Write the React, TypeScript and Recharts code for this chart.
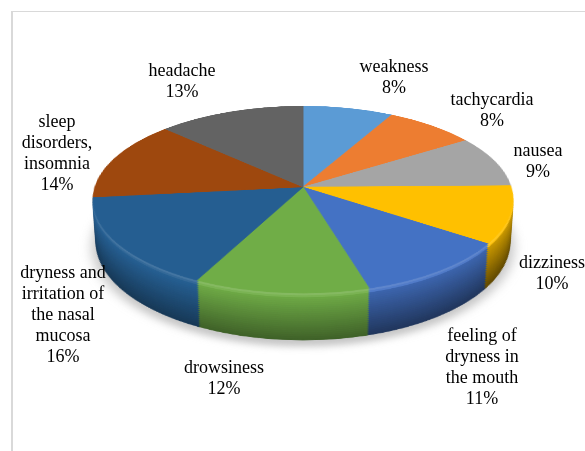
import { PieChart, Pie, Cell } from "recharts";

const CATEGORIES = [
  "weakness",
  "tachycardia",
  "nausea",
  "dizziness",
  "feeling of dryness in the mouth",
  "drowsiness",
  "dryness and irritation of the nasal mucosa",
  "sleep disorders, insomnia",
  "headache",
];
const VALUES = [8, 8, 9, 10, 11, 12, 16, 14, 13];
const COLORS = [
  "#5B9BD5",
  "#ED7D31",
  "#A5A5A5",
  "#FFC000",
  "#4472C4",
  "#70AD47",
  "#255E91",
  "#9E480E",
  "#636363",
];

// label placement: [centre x, top y, wrap width]
const LABEL_POS: [number, number, number][] = [
  [394, 56, 120],
  [492, 89, 120],
  [538, 140, 120],
  [552, 252, 120],
  [482, 325, 92],
  [224, 357, 120],
  [63, 262, 100],
  [57, 111, 100],
  [182, 60, 120],
];

// 3D tilt, done with css perspective
const CX = 303;
const CY = 187;
const R = 208;
const TILT = 63.8;
const PERSP = 1394;
const DEPTH = 48;
const LAYERS = 24;
const BOX = 2 * R + 40;
const LIGHT_DIR = 225; // degrees clockwise from 12 o'clock

function mix(hex: string, to: number, amt: number) {
  const n = parseInt(hex.slice(1), 16);
  const ch = [(n >> 16) & 255, (n >> 8) & 255, n & 255].map((c) =>
    Math.round(c + (to - c) * amt)
  );
  return `rgb(${ch[0]},${ch[1]},${ch[2]})`;
}

const total = VALUES.reduce((a, b) => a + b, 0);
const midAngles = VALUES.map((v, i) => {
  const before = VALUES.slice(0, i).reduce((a, b) => a + b, 0);
  return ((before + v / 2) / total) * 360;
});

function sideColor(i: number, t: number) {
  const hex = COLORS[i];
  const shade = (0.3 * (1 - Math.cos(((midAngles[i] - LIGHT_DIR) * Math.PI) / 180))) / 2;
  if (t < 0.12) return mix(hex, 255, 0.22 * (1 - t / 0.12));
  return mix(hex, 0, shade + 0.4 * ((t - 0.12) / 0.88));
}

const data = CATEGORIES.map((name, i) => ({ name, value: VALUES[i] }));

function Disc({
  z,
  colors,
  radius = R,
  style,
}: {
  z: number;
  colors: string[];
  radius?: number;
  style?: React.CSSProperties;
}) {
  return (
    <div
      style={{
        position: "absolute",
        left: CX - BOX / 2,
        top: CY - BOX / 2,
        width: BOX,
        height: BOX,
        transformOrigin: "50% 50%",
        transform: `rotateX(${TILT}deg) translateZ(${-z}px)`,
        ...style,
      }}
    >
      <PieChart width={BOX} height={BOX} margin={{ top: 0, right: 0, bottom: 0, left: 0 }}>
        <Pie
          data={data}
          dataKey="value"
          cx={BOX / 2}
          cy={BOX / 2}
          outerRadius={radius}
          startAngle={90}
          endAngle={-270}
          isAnimationActive={false}
        >
          {data.map((_, i) => (
            <Cell key={i} fill={colors[i]} stroke={colors[i]} strokeWidth={1} />
          ))}
        </Pie>
      </PieChart>
    </div>
  );
}

export default function App() {
  const layers = Array.from({ length: LAYERS }, (_, i) => LAYERS - i);

  return (
    <div
      style={{
        position: "absolute",
        left: 0,
        top: 0,
        width: 585,
        height: 451,
        overflow: "hidden",
        background: "#fff",
        fontFamily: '"Liberation Serif", "Times New Roman", Times, "DejaVu Serif", serif',
      }}
    >
      <div
        style={{
          position: "absolute",
          left: 11,
          top: 11,
          width: 620,
          height: 480,
          borderTop: "1px solid #d9d9d9",
          borderLeft: "2px solid #d9d9d9",
        }}
      />
      <div
        style={{
          position: "absolute",
          left: 0,
          top: 0,
          width: 585,
          height: 451,
          perspective: PERSP,
          perspectiveOrigin: `${CX}px ${CY}px`,
        }}
      >
        <Disc
          z={DEPTH + 4}
          radius={R + 4}
          colors={COLORS.map(() => "#7f7f7f")}
          style={{ filter: "blur(6px)", opacity: 0.45 }}
        />
        {layers.map((l) => {
          const t = l / LAYERS;
          return <Disc key={l} z={DEPTH * t} colors={COLORS.map((_, i) => sideColor(i, t))} />;
        })}
        <Disc z={0} colors={COLORS} />
      </div>
      {CATEGORIES.map((name, i) => {
        const [x, y, w] = LABEL_POS[i];
        return (
          <div
            key={name}
            style={{
              position: "absolute",
              left: x - w / 2,
              top: y,
              width: w,
              textAlign: "center",
              fontSize: 18,
              lineHeight: "21px",
              color: "#000",
            }}
          >
            <div>{name}</div>
            <div>{VALUES[i]}%</div>
          </div>
        );
      })}
    </div>
  );
}
